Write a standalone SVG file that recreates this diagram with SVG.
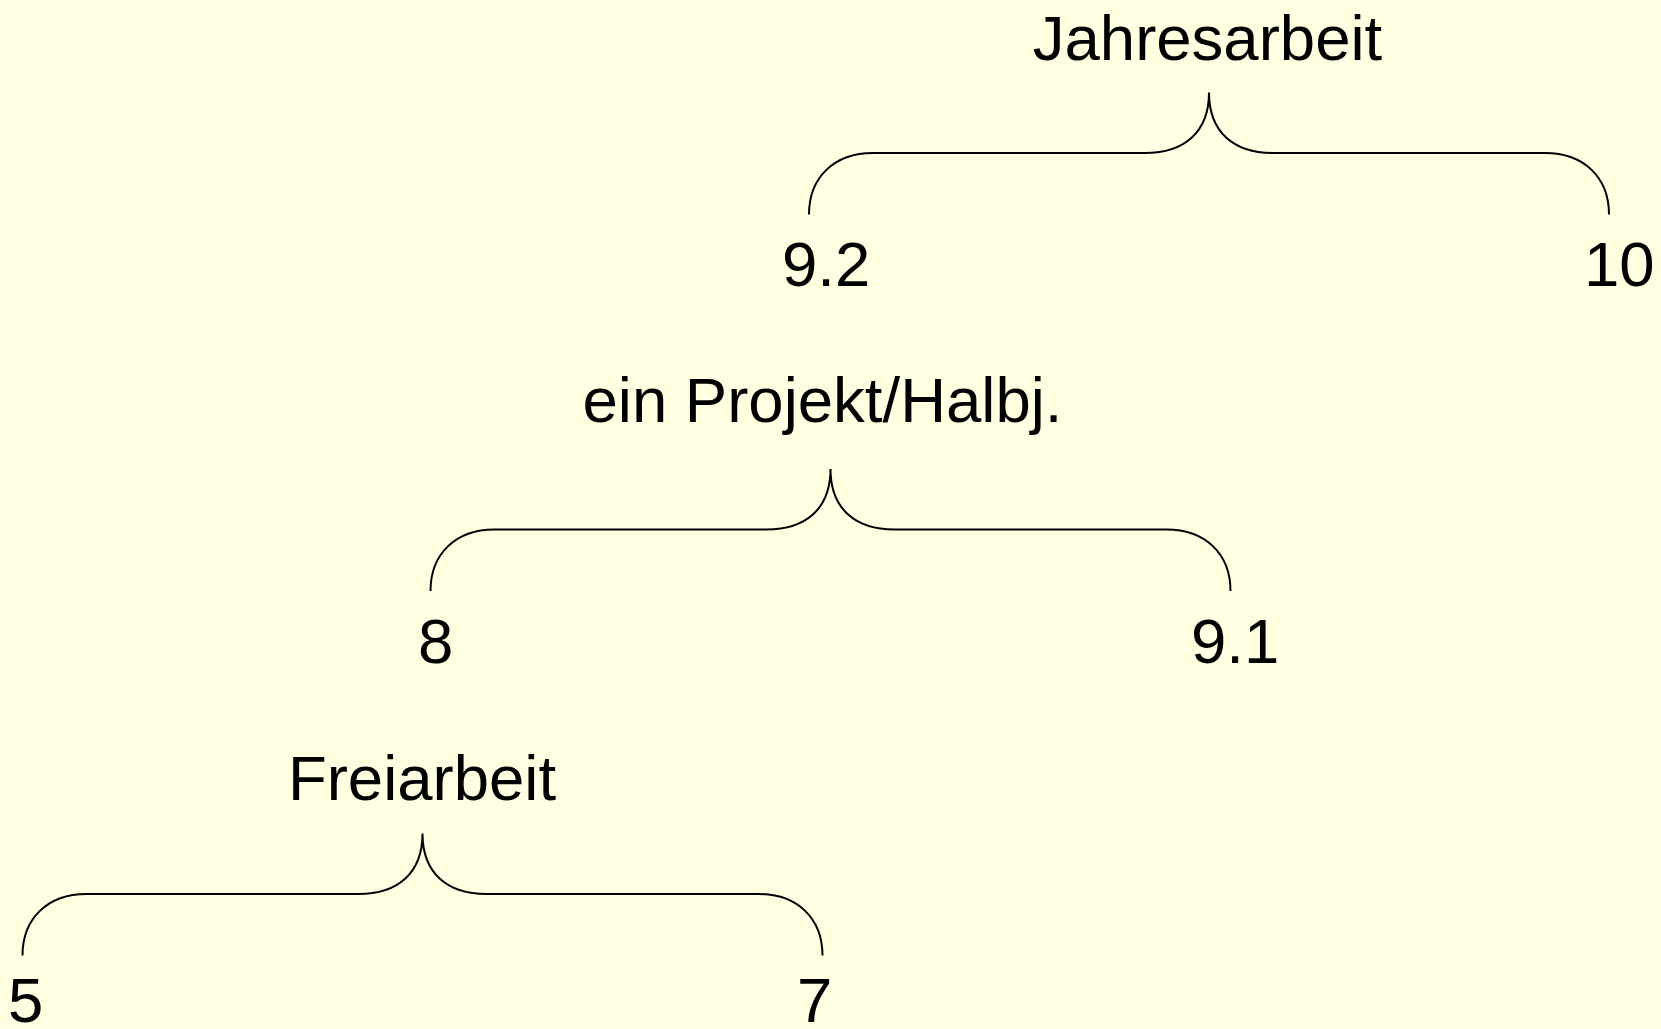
<svg xmlns="http://www.w3.org/2000/svg" width="1661" height="1029" viewBox="0 0 1661 1029">
<defs>
<style>
.lbl{font-family:"Liberation Sans",Arial,sans-serif;font-size:63.5px;fill:#000}
.mid{text-anchor:middle}
.brace{fill:none;stroke:#000;stroke-width:2}
</style>
<path id="br" d="M-400,122 C-400,85 -375,60.5 -336,60.5 L-64,60.5 C-25,60.5 0,40 0,0 C0,40 25,60.5 64,60.5 L336,60.5 C375,60.5 400,85 400,122"/>
</defs>
<rect width="1661" height="1029" fill="#FFFFE1"/>
<g id="connectors">
<use href="#br" class="brace" transform="translate(1209,92.5)"/>
<use href="#br" class="brace" transform="translate(830.5,469)"/>
<use href="#br" class="brace" transform="translate(422.5,833.5)"/>
</g>
<g id="jahresarbeit"><text class="lbl mid" x="1207.5" y="60">Jahresarbeit</text></g>
<g id="n92"><text class="lbl" x="782" y="286">9.2</text></g>
<g id="n10"><text class="lbl" x="1584" y="286">10</text></g>
<g id="projekt"><text class="lbl mid" x="822.5" y="421.5">ein Projekt/Halbj.</text></g>
<g id="n8"><text class="lbl" x="418" y="663">8</text></g>
<g id="n91"><text class="lbl" x="1191" y="663">9.1</text></g>
<g id="freiarbeit"><text class="lbl mid" x="422" y="800">Freiarbeit</text></g>
<g id="n5"><text class="lbl" x="8" y="1022">5</text></g>
<g id="n7"><text class="lbl" x="797" y="1022">7</text></g>
</svg>
